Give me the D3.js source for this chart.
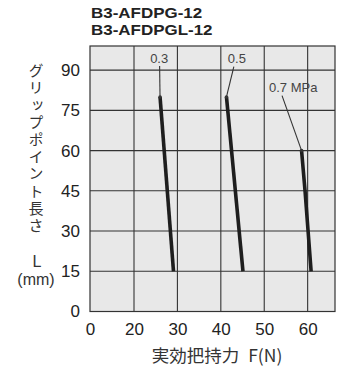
<!DOCTYPE html>
<html><head><meta charset="utf-8">
<script src="https://cdn.jsdelivr.net/npm/d3@7"></script>
<style>html,body{margin:0;padding:0;background:#fff;}svg{display:block;}</style>
</head><body>
<svg id="c" width="337" height="374"></svg>
<script>
// ---- data ----
const titleLines = ["B3-AFDPG-12", "B3-AFDPGL-12"];
const xTicks = [0, 20, 30, 40, 50, 60];
const yTicks = [0, 15, 30, 45, 60, 75, 90];
const pressureLabels = ["0.3", "0.5", "0.7 MPa"];
const series03 = [{F: 26.0, L: 80}, {F: 29.1, L: 15}];
const series05 = [{F: 41.3, L: 80}, {F: 45.1, L: 15}];
const series07 = [{F: 58.6, L: 60}, {F: 59.4, L: 45}, {F: 60.1, L: 30}, {F: 60.8, L: 15}];
// label anchor (F,L) and leader start (F,L)
const labelPos = [{F: 25.8, L: 92.7}, {F: 43.7, L: 92.7}, {F: 51.1, L: 81.8}];
const leaderStart = [{F: 25.9, L: 91.5}, {F: 43.0, L: 91.3}, {F: 54.1, L: 80.5}];
const yTitle = "グリップポイント長さ";
const xTitleJa = "実効把持力";
const xTitleUnit = "F(N)";

// ---- layout ----
const svg = d3.select("#c");
const mLeft = 90, mTop = 46, W = 245, H = 265.5;
const x = d3.scaleLinear().domain([0, 20, 66.3]).range([0, 44, W]);
const y = d3.scaleLinear().domain([0, 99]).range([H, 0]);
const latin = "'Liberation Sans', Arial, Helvetica, sans-serif";
const cjk = "'Noto Sans CJK JP', 'Liberation Sans', sans-serif";

const g = svg.append("g").attr("transform", `translate(${mLeft},${mTop})`);
g.append("rect").attr("width", W).attr("height", H).attr("fill", "#e8e8e8");

// grid
g.selectAll(".vg").data(xTicks.slice(1)).join("line")
  .attr("x1", d => x(d)).attr("x2", d => x(d)).attr("y1", 0).attr("y2", H)
  .attr("stroke", "#333").attr("stroke-width", 1.1);
g.selectAll(".hg").data(yTicks.slice(1)).join("line")
  .attr("y1", d => y(d)).attr("y2", d => y(d)).attr("x1", 0).attr("x2", W)
  .attr("stroke", "#333").attr("stroke-width", 1.1);
g.append("rect").attr("width", W).attr("height", H).attr("fill", "none")
  .attr("stroke", "#333").attr("stroke-width", 1.2);

// axes (labels only)
const xa = g.append("g").attr("transform", `translate(0,${H})`)
  .call(d3.axisBottom(x).tickValues(xTicks).tickSize(0).tickPadding(11).tickFormat(d3.format("d")));
xa.select(".domain").remove();
xa.selectAll("text").attr("font-family", latin).attr("font-size", 17).attr("fill", "#222");
const ya = g.append("g")
  .call(d3.axisLeft(y).tickValues(yTicks).tickSize(0).tickPadding(10).tickFormat(d3.format("d")));
ya.select(".domain").remove();
ya.selectAll("text").attr("font-family", latin).attr("font-size", 17).attr("fill", "#222");

// curves
const line = d3.line().x(d => x(d.F)).y(d => y(d.L));
[series03, series05, series07].forEach(s => {
  g.append("path").datum(s).attr("d", line).attr("fill", "none")
    .attr("stroke", "#1e1e1e").attr("stroke-width", 3.6).attr("stroke-linecap", "butt");
});

// leaders & labels
const tops = [series03[0], series05[0], series07[0]];
pressureLabels.forEach((lab, i) => {
  g.append("line").attr("x1", x(leaderStart[i].F)).attr("y1", y(leaderStart[i].L))
    .attr("x2", x(tops[i].F)).attr("y2", y(tops[i].L))
    .attr("stroke", "#333").attr("stroke-width", 1.1);
  g.append("circle").attr("cx", x(tops[i].F)).attr("cy", y(tops[i].L)).attr("r", 1.8).attr("fill", "#333");
  g.append("text").attr("x", x(labelPos[i].F)).attr("y", y(labelPos[i].L))
    .attr("text-anchor", i < 2 ? "middle" : "start")
    .attr("font-family", latin).attr("font-size", 13).attr("fill", "#444").text(lab);
});

// title
titleLines.forEach((t, i) => {
  svg.append("text").attr("x", 0).attr("y", 0)
    .attr("font-family", latin).attr("font-weight", "bold").attr("font-size", 14.5)
    .attr("fill", "#222")
    .attr("transform", `translate(91,${18 + i * 16.7}) scale(1.17,1.05)`).text(t);
});

// y title (vertical)
svg.append("text").attr("x", 36).attr("y", 63)
  .style("writing-mode", "vertical-rl")
  .attr("font-family", cjk).attr("font-size", 15).attr("letter-spacing", 2.2)
  .attr("fill", "#333").text(yTitle);
svg.append("text").attr("x", 37).attr("y", 267).attr("text-anchor", "middle")
  .attr("font-family", latin).attr("font-size", 16).attr("fill", "#333").text("L");
svg.append("text").attr("x", 36).attr("y", 285).attr("text-anchor", "middle")
  .attr("font-family", latin).attr("font-size", 16).attr("fill", "#333").text("(mm)");

// x title
const xt = svg.append("text").attr("x", 217).attr("y", 362).attr("text-anchor", "middle")
  .attr("font-family", cjk).attr("font-size", 17.5).attr("fill", "#333");
xt.append("tspan").text(xTitleJa);
xt.append("tspan").attr("dx", 9).text(xTitleUnit);
</script>
</body></html>
